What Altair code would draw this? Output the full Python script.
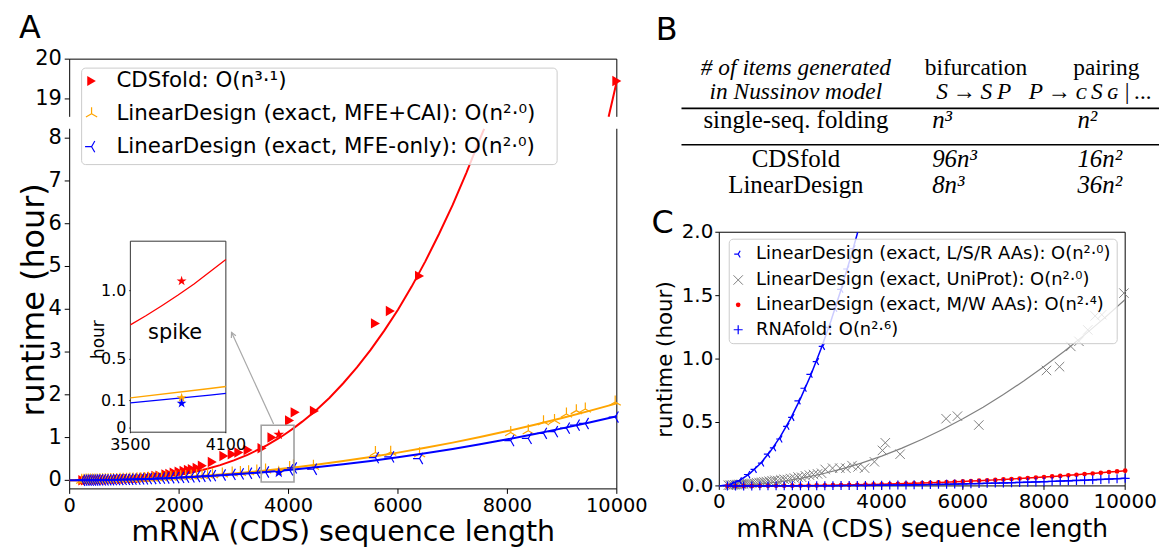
import altair as alt
import pandas as pd

W, H = 1157, 540
SANS = "DejaVu Sans"
SERIF = "Liberation Serif"
RED, ORANGE, BLUE, GREY = "#ff0000", "#ffa500", "#0000ff", "#808080"

# ---------------- Panel A data ----------------
cds_len = [240, 290, 330, 380, 430, 480, 530, 580, 640, 700, 760, 820, 880, 950, 1010, 1080, 1150,
           1220, 1290, 1360, 1430, 1500, 1576, 1650, 1758, 1830, 1909, 2000, 2091, 2170, 2242, 2330,
           2424, 2606, 2818, 2970, 3091, 3261, 3515, 3697, 4018, 4121, 4473, 5588, 5860, 6394, 10000]
cds_hours = [0.003, 0.004, 0.005, 0.006, 0.008, 0.009, 0.011, 0.012, 0.014, 0.016, 0.018, 0.021,
             0.024, 0.027, 0.030, 0.034, 0.038, 0.043, 0.050, 0.060, 0.070, 0.080, 0.100, 0.110,
             0.140, 0.150, 0.180, 0.200, 0.220, 0.240, 0.260, 0.290, 0.340, 0.430, 0.570, 0.610,
             0.650, 0.710, 0.750, 1.000, 1.400, 1.590, 1.620, 3.670, 3.960, 4.780, 19.45]

ld_len = [220, 260, 300, 340, 380, 420, 460, 500, 550, 600, 650, 700, 750, 800, 860, 920, 980, 1040,
          1100, 1160, 1230, 1300, 1370, 1440, 1520, 1600, 1680, 1760, 1850, 1940, 2030, 2120, 2220,
          2320, 2420, 2520, 2610, 2790, 2970, 3120, 3270, 3420, 3580, 4020, 4090, 4455, 5588, 5867,
          6394, 8061, 8382, 8660, 8861, 9079, 9260, 9424, 9970]
cai_hours = [0.004, 0.005, 0.006, 0.007, 0.008, 0.009, 0.010, 0.011, 0.012, 0.013, 0.015, 0.016,
             0.018, 0.020, 0.022, 0.024, 0.026, 0.028, 0.031, 0.034, 0.037, 0.040, 0.044, 0.048,
             0.052, 0.057, 0.062, 0.067, 0.072, 0.078, 0.085, 0.092, 0.099, 0.107, 0.115, 0.124,
             0.132, 0.150, 0.170, 0.185, 0.200, 0.220, 0.240, 0.300, 0.340, 0.330, 0.650, 0.660,
             0.620, 1.120, 1.160, 1.370, 1.400, 1.550, 1.630, 1.670, 1.830]
mfe_hours = [0.003, 0.004, 0.004, 0.005, 0.006, 0.007, 0.008, 0.009, 0.010, 0.011, 0.012, 0.013,
             0.014, 0.016, 0.018, 0.019, 0.021, 0.023, 0.025, 0.027, 0.030, 0.033, 0.036, 0.039,
             0.043, 0.047, 0.051, 0.055, 0.060, 0.065, 0.070, 0.076, 0.082, 0.089, 0.096, 0.104,
             0.111, 0.125, 0.140, 0.152, 0.165, 0.180, 0.195, 0.245, 0.290, 0.260, 0.530, 0.550,
             0.510, 0.930, 0.980, 1.100, 1.140, 1.220, 1.290, 1.330, 1.480]

spike_len = [3822, 3822, 3822]
spike_hours = [1.07, 0.22, 0.18]
spike_colors = [RED, ORANGE, BLUE]

fit_cds_n = [0, 250, 500, 750, 1000, 1250, 1500, 1750, 2000, 2250, 2500, 2750, 3000, 3250, 3500,
             3600, 3700, 3800, 3900, 4000, 4100, 4250, 4500, 4750, 5000, 5250, 5500, 5750, 6000,
             6250, 6500, 6750, 7000, 7250, 7500, 7575, 9850, 9925, 10000]
fit_cds_v = [0.0, 0.0002, 0.0018, 0.0063, 0.0154, 0.0308, 0.0543, 0.0875, 0.132, 0.191, 0.265,
             0.355, 0.466, 0.596, 0.751, 0.819, 0.892, 0.968, 1.049, 1.137, 1.226, 1.372, 1.635,
             1.93, 2.27, 2.64, 3.05, 3.50, 3.99, 4.53, 5.12, 5.76, 6.44, 7.19, 7.99, 8.22, 18.55,
             19.0, 19.45]
fit_ld_n = [0, 500, 1000, 1500, 2000, 2500, 3000, 3500, 4000, 4100, 4500, 5000, 5500, 6000, 6500,
            7000, 7500, 8000, 8500, 9000, 9500, 10000]
fit_cai_v = [0, 0.0045, 0.018, 0.0405, 0.072, 0.1125, 0.162, 0.2205, 0.288, 0.3026, 0.3645, 0.45,
             0.5445, 0.648, 0.7605, 0.882, 1.0125, 1.152, 1.3005, 1.458, 1.6245, 1.8]
fit_mfe_v = [0, 0.00375, 0.015, 0.034, 0.06, 0.094, 0.135, 0.184, 0.24, 0.252, 0.304, 0.375,
             0.454, 0.54, 0.634, 0.735, 0.844, 0.96, 1.084, 1.215, 1.354, 1.5]

zoom_box = {"n": [3500], "n2": [4100], "v": [-0.04], "v2": [1.29]}
arrow = {"n": [3727], "v": [1.32], "n2": [2958], "v2": [3.46]}

legend_A = ["CDSfold: O(n³·¹)",
            "LinearDesign (exact, MFE+CAI): O(n²·⁰)",
            "LinearDesign (exact, MFE-only): O(n²·⁰)"]

# ---------------- Panel C data ----------------
lsr_len = [300, 499, 705, 868, 1049, 1196, 1344, 1499, 1671, 1794, 1949, 2097, 2244, 2400, 2548,
           2700, 2850, 3000, 3150, 3300]
lsr_hours = [0.010, 0.040, 0.090, 0.130, 0.180, 0.250, 0.300, 0.370, 0.470, 0.540, 0.670, 0.770,
             0.880, 0.980, 1.100, 1.250, 1.400, 1.550, 1.710, 1.870]
fit_lsr_n = [0, 250, 500, 750, 1000, 1250, 1500, 1750, 2000, 2250, 2500, 2750, 3000, 3250, 3410]
fit_lsr_v = [0, 0.011, 0.043, 0.097, 0.172, 0.269, 0.387, 0.527, 0.688, 0.871, 1.075, 1.301,
             1.548, 1.817, 2.0]

uni_len = [220, 260, 300, 340, 380, 420, 460, 500, 550, 600, 650, 700, 750, 800, 860, 920, 980,
           1040, 1100, 1160, 1230, 1300, 1370, 1440, 1520, 1600, 1680, 1760, 1850, 1940, 2030,
           2120, 2220, 2320, 2420, 2520, 2610, 2790, 2970, 3120, 3270, 3420, 3580, 3822, 4020,
           4090, 4455, 5588, 5867, 6394, 8061, 8382, 8660, 8861, 9079, 9260, 9424, 9970]
uni_hours = [0.005, 0.006, 0.007, 0.008, 0.009, 0.010, 0.011, 0.012, 0.013, 0.014, 0.016, 0.017,
             0.019, 0.021, 0.023, 0.025, 0.027, 0.029, 0.032, 0.034, 0.037, 0.041, 0.045, 0.042,
             0.048, 0.052, 0.050, 0.058, 0.062, 0.070, 0.068, 0.080, 0.085, 0.090, 0.095, 0.100,
             0.130, 0.140, 0.140, 0.140, 0.160, 0.150, 0.140, 0.190, 0.280, 0.340, 0.250, 0.530,
             0.550, 0.480, 0.910, 0.940, 1.100, 1.140, 1.230, 1.340, 1.350, 1.520]
fit_uni_n = [0, 500, 1000, 1500, 2000, 2500, 3000, 3500, 4000, 4500, 5000, 5500, 6000, 6500, 7000,
             7500, 8000, 8500, 9000, 9500, 10000]
fit_uni_v = [0, 0.0037, 0.0147, 0.033, 0.0588, 0.092, 0.132, 0.180, 0.235, 0.298, 0.3675, 0.445,
             0.529, 0.621, 0.720, 0.827, 0.941, 1.062, 1.191, 1.327, 1.47]

grid_len = [200, 400, 600, 800, 1000, 1200, 1400, 1600, 1800, 2000, 2200, 2400, 2600, 2800, 3000,
            3200, 3400, 3600, 3800, 4000, 4200, 4400, 4600, 4800, 5000, 5200, 5400, 5600, 5800,
            6000, 6200, 6400, 6600, 6800, 7000, 7200, 7400, 7600, 7800, 8000, 8200, 8400, 8600,
            8800, 9000, 9200, 9400, 9600, 9800, 10000]
mw_hours = [0.0000, 0.0001, 0.0001, 0.0003, 0.0005, 0.0007, 0.0011, 0.0015, 0.0020, 0.0025, 0.0032,
            0.0039, 0.0047, 0.0057, 0.0067, 0.0078, 0.0090, 0.0103, 0.0118, 0.0133, 0.0150, 0.0167,
            0.0186, 0.0206, 0.0227, 0.0250, 0.0274, 0.0298, 0.0325, 0.0352, 0.0381, 0.0411, 0.0443,
            0.0476, 0.0510, 0.0546, 0.0582, 0.0621, 0.0661, 0.0702, 0.0746, 0.0790, 0.0836, 0.0883,
            0.0932, 0.0982, 0.1034, 0.1088, 0.1143, 0.1200]
rnafold_hours = [0.0000, 0.0000, 0.0000, 0.0001, 0.0002, 0.0002, 0.0004, 0.0005, 0.0007, 0.0009,
                 0.0012, 0.0015, 0.0018, 0.0022, 0.0026, 0.0031, 0.0036, 0.0042, 0.0049, 0.0055,
                 0.0063, 0.0071, 0.0080, 0.0089, 0.0099, 0.0110, 0.0121, 0.0133, 0.0146, 0.0159,
                 0.0173, 0.0188, 0.0204, 0.0220, 0.0237, 0.0256, 0.0274, 0.0294, 0.0315, 0.0336,
                 0.0358, 0.0382, 0.0405, 0.0430, 0.0456, 0.0483, 0.0511, 0.0540, 0.0569, 0.0600]

legend_C = ["LinearDesign (exact, L/S/R AAs): O(n²·⁰)",
            "LinearDesign (exact, UniProt): O(n²·⁰)",
            "LinearDesign (exact, M/W AAs): O(n²·⁴)",
            "RNAfold: O(n²·⁶)"]

# ---------------- Panel B table ----------------
T = "\u2009"
table_head1 = ["# of items generated", "bifurcation", "pairing"]
table_head2 = ["in Nussinov model", f"S{T}→{T}S{T}P", f"P{T}→{T}ᴄ{T}S{T}ɢ{T}|{T}..."]
table_rows = [["single-seq. folding", "n³", "n²"],
              ["CDSfold", "96n³", "16n²"],
              ["LinearDesign", "8n³", "36n²"]]

# ---------------- ticks ----------------
A_X_DOM, A_YB_DOM, A_YT_DOM = [0, 10000], [-0.2, 8.22], [18.55, 20]
I_X_DOM, I_Y_DOM = [3500, 4100], [-0.03, 1.36]
C_X_DOM, C_Y_DOM = [0, 10000], [0, 2]
A_XTICKS = [0, 2000, 4000, 6000, 8000, 10000]
A_XLABELS = ["0", "2000", "4000", "6000", "8000", "10000"]
A_YB_TICKS = [0, 1, 2, 3, 4, 5, 6, 7, 8]
A_YB_LABELS = ["0", "1", "2", "3", "4", "5", "6", "7", "8"]
A_YT_TICKS = [19, 20]
A_YT_LABELS = ["19", "20"]
I_XTICKS = [3500, 4100]
I_XLABELS = ["3500", "4100"]
I_YTICKS = [0, 0.2, 0.5, 1.0]
I_YLABELS = ["0", "0.1", "0.5", "1.0"]
C_XTICKS = A_XTICKS
C_XLABELS = A_XLABELS
C_YTICKS = [0, 0.5, 1.0, 1.5, 2.0]
C_YLABELS = ["0.0", "0.5", "1.0", "1.5", "2.0"]

# pixel ranges inside the canvas (layout)
A_XR, A_YBR, A_YTR = [62, 612], [482, 120], [108, 50]
I_XR, I_YR = [123, 219], [425, 233]
C_XR, C_YR = [715, 1123], [479, 224]


def sc(dom, rng):
    return alt.Scale(domain=dom, range=rng, nice=False, zero=False)


def XY(xs, ys):
    return {"x": alt.X("n:Q", scale=xs, axis=None), "y": alt.Y("v:Q", scale=ys, axis=None)}


def dfnv(n, v):
    return pd.DataFrame({"n": n, "v": v})


def frame(xs, ys, xd, yd, sides, color="black"):
    seg = {"left": (xd[0], xd[0], yd[0], yd[1]), "right": (xd[1], xd[1], yd[0], yd[1]),
           "bottom": (xd[0], xd[1], yd[0], yd[0]), "top": (xd[0], xd[1], yd[1], yd[1])}
    rows = [seg[s] for s in sides]
    d = pd.DataFrame({"n": [r[0] for r in rows], "n2": [r[1] for r in rows],
                      "v": [r[2] for r in rows], "v2": [r[3] for r in rows]})
    return alt.Chart(d).mark_rule(color=color, strokeWidth=1).encode(**XY(xs, ys), x2="n2:Q", y2="v2:Q")


def xaxis(xs, ticks, labels, y0, size, tick=5, pad=3):
    d = pd.DataFrame({"n": ticks, "lab": labels})
    xe = alt.X("n:Q", scale=xs, axis=None)
    t = alt.Chart(d).mark_rule(color="black", strokeWidth=1).encode(
        x=xe, y=alt.value(y0), y2=alt.value(y0 + tick))
    lab = alt.Chart(d).mark_text(font=SANS, fontSize=size, baseline="top", align="center",
                                 color="black").encode(x=xe, y=alt.value(y0 + tick + pad), text="lab:N")
    return [t, lab]


def yaxis(ys, ticks, labels, x0, size, tick=5, pad=3):
    d = pd.DataFrame({"v": ticks, "lab": labels})
    ye = alt.Y("v:Q", scale=ys, axis=None)
    t = alt.Chart(d).mark_rule(color="black", strokeWidth=1).encode(
        y=ye, x=alt.value(x0 - tick), x2=alt.value(x0))
    lab = alt.Chart(d).mark_text(font=SANS, fontSize=size, baseline="middle", align="right",
                                 color="black").encode(y=ye, x=alt.value(x0 - tick - pad), text="lab:N")
    return [t, lab]


TRI_UP = "M0,0L0,-1M0,0L-0.866,0.5M0,0L0.866,0.5"
TRI_LEFT = "M0,0L-1,0M0,0L0.5,-0.866M0,0L0.5,0.866"
XSHAPE = "M-1,-1L1,1M-1,1L1,-1"
PLUS = "M-1,0L1,0M0,-1L0,1"
STAR = ("M0,-1L0.2245,-0.309L0.951,-0.309L0.363,0.118L0.588,0.809L0,0.382L-0.588,0.809"
        "L-0.363,0.118L-0.951,-0.309L-0.2245,-0.309Z")
HEAD = "M-0.5,1L0,0L0.5,1"

# ---------------- Panel A bottom ----------------
xa, yab, yat = sc(A_X_DOM, A_XR), sc(A_YB_DOM, A_YBR), sc(A_YT_DOM, A_YTR)
eB = XY(xa, yab)
inB = alt.datum.v <= A_YB_DOM[1]
red_fit_b = alt.Chart(dfnv(fit_cds_n, fit_cds_v)).transform_filter(inB) \
    .mark_line(color=RED, strokeWidth=2).encode(**eB)
red_pts_b = alt.Chart(dfnv(cds_len, cds_hours)).transform_filter(inB) \
    .mark_point(shape="triangle-right", filled=True, color=RED, size=110, opacity=1).encode(**eB)
cai_fit = alt.Chart(dfnv(fit_ld_n, fit_cai_v)).mark_line(color=ORANGE, strokeWidth=2).encode(**eB)
cai_pts = alt.Chart(dfnv(ld_len, cai_hours)).mark_point(
    shape=TRI_UP, filled=False, color=ORANGE, size=170, opacity=1, strokeWidth=1.2).encode(**eB)
mfe_fit = alt.Chart(dfnv(fit_ld_n, fit_mfe_v)).mark_line(color=BLUE, strokeWidth=2).encode(**eB)
mfe_pts = alt.Chart(dfnv(ld_len, mfe_hours)).mark_point(
    shape=TRI_LEFT, filled=False, color=BLUE, size=170, opacity=1, strokeWidth=1.2).encode(**eB)
spike_df = pd.DataFrame({"n": spike_len, "v": spike_hours, "c": spike_colors})
stars_b = alt.Chart(spike_df).mark_point(shape=STAR, filled=True, size=130, opacity=1) \
    .encode(**eB, color=alt.Color("c:N", scale=None))
box = alt.Chart(pd.DataFrame(zoom_box)).mark_rect(fill=None, stroke="#a0a0a0", strokeWidth=1.6) \
    .encode(**eB, x2="n2:Q", y2="v2:Q")
arr_line = alt.Chart(pd.DataFrame(arrow)).mark_rule(color="#a8a8a8", strokeWidth=1.2) \
    .encode(**eB, x2="n2:Q", y2="v2:Q")
arr_head = alt.Chart(pd.DataFrame({"n": arrow["n2"], "v": arrow["v2"]})).mark_point(
    shape=HEAD, filled=False, color="#a8a8a8", size=100, angle=335, opacity=1, strokeWidth=1.2) \
    .encode(**eB)
groupA_bottom = alt.layer(
    frame(xa, yab, A_X_DOM, A_YB_DOM, ["left", "right", "bottom"]),
    *xaxis(xa, A_XTICKS, A_XLABELS, A_YBR[0], 19.5, pad=3),
    *yaxis(yab, A_YB_TICKS, A_YB_LABELS, A_XR[0], 21),
    red_fit_b, red_pts_b, cai_fit, cai_pts, mfe_fit, mfe_pts, stars_b, box, arr_line, arr_head)

# ---------------- Panel A top ----------------
inT = alt.datum.v >= A_YT_DOM[0]
red_fit_t = alt.Chart(dfnv(fit_cds_n, fit_cds_v)).transform_filter(inT) \
    .mark_line(color=RED, strokeWidth=2).encode(**XY(xa, yat))
red_pts_t = alt.Chart(dfnv(cds_len, cds_hours)).transform_filter(inT) \
    .mark_point(shape="triangle-right", filled=True, color=RED, size=110, opacity=1).encode(**XY(xa, yat))
groupA_top = alt.layer(
    frame(xa, yat, A_X_DOM, A_YT_DOM, ["left", "top", "right"]),
    *yaxis(yat, A_YT_TICKS, A_YT_LABELS, A_XR[0], 21),
    red_fit_t, red_pts_t)

# ---------------- inset ----------------
xi, yi = sc(I_X_DOM, I_XR), sc(I_Y_DOM, I_YR)
eI = XY(xi, yi)
inI = (alt.datum.n >= I_X_DOM[0]) & (alt.datum.n <= I_X_DOM[1])
i_red = alt.Chart(dfnv(fit_cds_n, fit_cds_v)).transform_filter(inI).mark_line(color=RED, strokeWidth=1.3).encode(**eI)
i_cai = alt.Chart(dfnv(fit_ld_n, fit_cai_v)).transform_filter(inI).mark_line(color=ORANGE, strokeWidth=1.3).encode(**eI)
i_mfe = alt.Chart(dfnv(fit_ld_n, fit_mfe_v)).transform_filter(inI).mark_line(color=BLUE, strokeWidth=1.3).encode(**eI)
i_stars = alt.Chart(spike_df).mark_point(shape=STAR, filled=True, size=110, opacity=1) \
    .encode(**eI, color=alt.Color("c:N", scale=None))
group_inset = alt.layer(
    frame(xi, yi, I_X_DOM, I_Y_DOM, ["left", "right", "bottom", "top"], "#333333"),
    *xaxis(xi, I_XTICKS, I_XLABELS, I_YR[0], 16, tick=1, pad=4),
    *yaxis(yi, I_YTICKS, I_YLABELS, I_XR[0], 16, tick=1, pad=3),
    i_red, i_cai, i_mfe, i_stars)

# ---------------- Panel C ----------------
xc, yc = sc(C_X_DOM, C_XR), sc(C_Y_DOM, C_YR)
eC = XY(xc, yc)
c_uni_fit = alt.Chart(dfnv(fit_uni_n, fit_uni_v)).mark_line(color=GREY, strokeWidth=1.2).encode(**eC)
c_uni = alt.Chart(dfnv(uni_len, uni_hours)).mark_point(
    shape=XSHAPE, filled=False, color=GREY, size=90, opacity=1, strokeWidth=1).encode(**eC)
c_lsr_fit = alt.Chart(dfnv(fit_lsr_n, fit_lsr_v)).mark_line(color=BLUE, strokeWidth=1.5).encode(**eC)
c_lsr = alt.Chart(dfnv(lsr_len, lsr_hours)).mark_point(
    shape=TRI_LEFT, filled=False, color=BLUE, size=64, opacity=1, strokeWidth=1.2).encode(**eC)
c_mw_fit = alt.Chart(dfnv(grid_len, mw_hours)).mark_line(color=RED, strokeWidth=1.5).encode(**eC)
c_mw = alt.Chart(dfnv(grid_len, mw_hours)).mark_point(
    shape="circle", filled=True, color=RED, size=22, opacity=1).encode(**eC)
c_rf_fit = alt.Chart(dfnv(grid_len, rnafold_hours)).mark_line(color=BLUE, strokeWidth=1.5).encode(**eC)
c_rf = alt.Chart(dfnv(grid_len, rnafold_hours)).mark_point(
    shape=PLUS, filled=False, color=BLUE, size=81, opacity=1, strokeWidth=1.2).encode(**eC)
groupC = alt.layer(
    frame(xc, yc, C_X_DOM, C_Y_DOM, ["left", "right", "bottom", "top"]),
    *xaxis(xc, C_XTICKS, C_XLABELS, C_YR[0], 20, tick=4, pad=2),
    *yaxis(yc, C_YTICKS, C_YLABELS, C_XR[0], 20, tick=4, pad=2),
    c_uni_fit, c_uni, c_lsr_fit, c_lsr, c_mw_fit, c_mw, c_rf_fit, c_rf)

# ---------------- decorations (legends, titles, table) ----------------
ONE = pd.DataFrame({"k": [0]})


def txt(s, x, y, size, font=SANS, style="normal", align="left", baseline="middle", angle=0):
    kw = dict(font=font, fontSize=size, fontStyle=style, align=align, baseline=baseline, color="black")
    if angle:
        kw["angle"] = angle
    return alt.Chart(pd.DataFrame({"t": [s]})).mark_text(**kw).encode(
        text="t:N", x=alt.value(x), y=alt.value(y))


def sym(shape, x, y, size, color, filled, sw=1.2):
    return alt.Chart(ONE).mark_point(shape=shape, size=size, filled=filled, color=color, opacity=1,
                                     strokeWidth=sw).encode(x=alt.value(x), y=alt.value(y))


def lbox(x0, x1, y0, y1):
    return alt.Chart(ONE).mark_rect(fill="white", fillOpacity=0.8, stroke="#cccccc", strokeWidth=1,
                                    cornerRadius=4).encode(
        x=alt.value(x0), x2=alt.value(x1), y=alt.value(y0), y2=alt.value(y1))


def hrule(x0, x1, y, w=1.6):
    return alt.Chart(ONE).mark_rule(color="black", strokeWidth=w).encode(
        x=alt.value(x0), x2=alt.value(x1), y=alt.value(y))


decor = []
# axis titles
decor.append(txt("mRNA (CDS) sequence length", (A_XR[0] + A_XR[1]) / 2, 525, 28.5, align="center"))
decor.append(txt("runtime (hour)", 26, 292, 32, align="center", angle=270))
decor.append(txt("mRNA (CDS) sequence length", (C_XR[0] + C_XR[1]) / 2, 522, 25, align="center"))
decor.append(txt("runtime (hour)", 661, 352, 21.5, align="center", angle=270))
decor.append(txt("hour", 91, 332, 17, align="center", angle=270))
# legend A
decor.append(lbox(74, 552, 59, 156))
rowsA = [72, 105, 138]
decor.append(sym("triangle-right", 84, rowsA[0], 100, RED, True))
decor.append(sym(TRI_UP, 84, rowsA[1], 170, ORANGE, False))
decor.append(sym(TRI_LEFT, 84, rowsA[2], 170, BLUE, False))
for lab, y in zip(legend_A, rowsA):
    decor.append(txt(lab, 109, y, 21.5))
# legend C
decor.append(lbox(725, 1115, 231, 336))
rowsC = [246, 272, 297, 322]
decor.append(sym(TRI_LEFT, 734, rowsC[0], 64, BLUE, False))
decor.append(sym(XSHAPE, 734, rowsC[1], 90, GREY, False, 1))
decor.append(sym("circle", 734, rowsC[2], 22, RED, True))
decor.append(sym(PLUS, 734, rowsC[3], 81, BLUE, False))
for lab, y in zip(legend_C, rowsC):
    decor.append(txt(lab, 752, y, 18))
# inset text
decor.append(txt("spike", 168, 325, 21, align="center"))
# panel letters
decor.append(txt("A", 22, 19, 32, align="center"))
decor.append(txt("B", 662, 21, 32, align="center"))
decor.append(txt("C", 658, 215, 32, align="center"))
# table B
TS = 23.5
decor.append(txt(table_head1[0], 792, 66, TS, SERIF, "italic", "center", "alphabetic"))
decor.append(txt(table_head1[1], 973, 66, TS, SERIF, "normal", "center", "alphabetic"))
decor.append(txt(table_head1[2], 1104, 66, TS, SERIF, "normal", "center", "alphabetic"))
decor.append(txt(table_head2[0], 792, 90.5, TS, SERIF, "italic", "center", "alphabetic"))
decor.append(txt(table_head2[1], 933, 90.5, TS, SERIF, "italic", "left", "alphabetic"))
decor.append(txt(table_head2[2], 1026, 90.5, TS, SERIF, "italic", "left", "alphabetic"))
decor.append(hrule(677, 1157, 99.5))
decor.append(hrule(677, 1157, 136))
for row, yb in zip(table_rows, [119, 158.5, 184.5]):
    decor.append(txt(row[0], 792, yb, 25, SERIF, "normal", "center", "alphabetic"))
    decor.append(txt(row[1], 929, yb, 25, SERIF, "italic", "left", "alphabetic"))
    decor.append(txt(row[2], 1075, yb, 25, SERIF, "italic", "left", "alphabetic"))

chart = alt.layer(groupA_bottom, groupA_top, group_inset, groupC, *decor).resolve_scale(
    x="independent", y="independent"
).properties(
    width=W, height=H, autosize=alt.AutoSizeParams(type="none"), padding=0, background="white"
).configure_view(stroke=None)

chart.save("out.html", embed_options={"renderer": "svg", "actions": False})
